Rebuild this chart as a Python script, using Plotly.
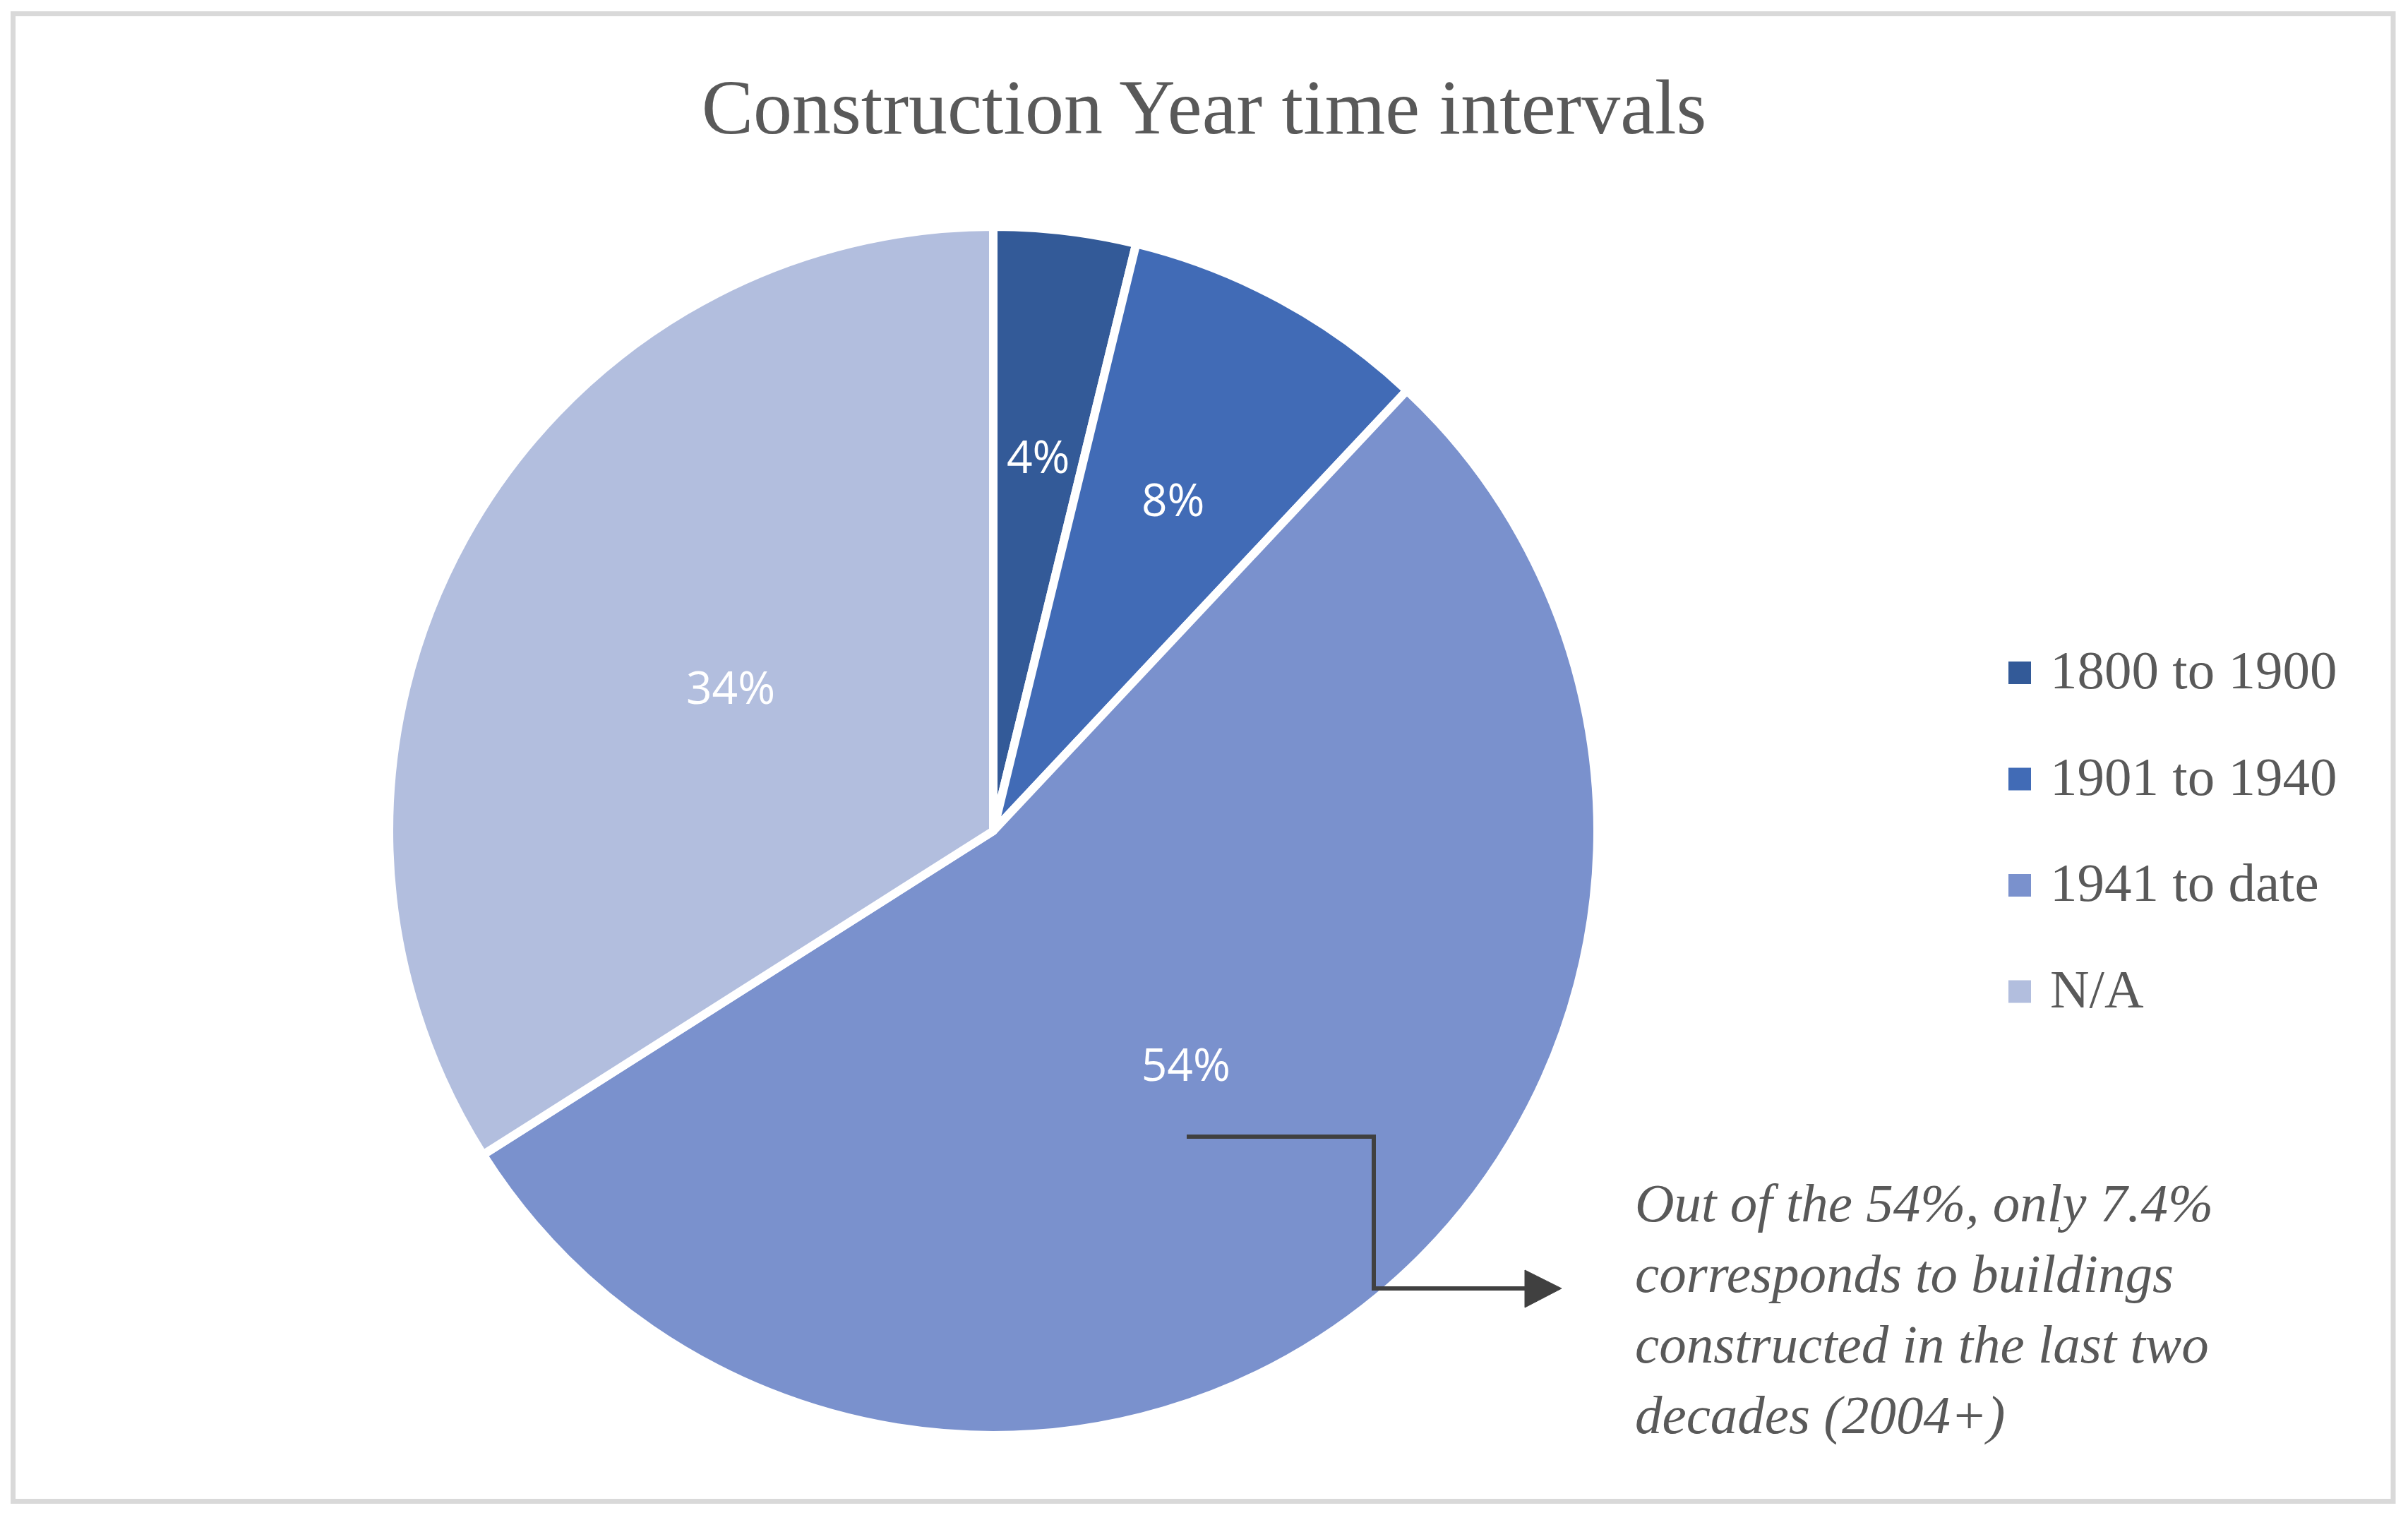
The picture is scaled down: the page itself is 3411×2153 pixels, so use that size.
import math
import plotly.graph_objects as go

W, H = 3411, 2153

categories = ["1800 to 1900", "1901 to 1940", "1941 to date", "N/A"]
values = [3.8, 8.2, 54.0, 34.0]
colors = ["#335A98", "#416BB6", "#7A91CD", "#B2BEDE"]
title_text = "Construction Year time intervals"
note_lines = [
    "Out of the 54%, only 7.4%",
    "corresponds to buildings",
    "constructed in the last two",
    "decades (2004+)",
]
# radial position of the data labels (fraction of radius); None = library placement
label_radius = [0.63, 0.63, None, 0.50]


def px(x):
    return x / W


def py(y):
    return 1 - y / H


# pie geometry (pixels)
cx, cy, r = 1407, 1177, 856

fig = go.Figure()
fig.add_trace(go.Pie(
    labels=categories,
    values=values,
    sort=False,
    direction="clockwise",
    rotation=0,
    marker=dict(colors=colors, line=dict(color="white", width=12)),
    texttemplate="%{percent:.0%}",
    textposition=["none" if lr else "inside" for lr in label_radius],
    insidetextorientation="horizontal",
    textfont=dict(family="Open Sans", size=64, color="white"),
    hoverinfo="label+percent",
    showlegend=False,
    domain=dict(x=[px(cx - r), px(cx + r)], y=[py(cy + r), py(cy - r)]),
))

shapes = []
annotations = []

# labels placed along each slice's mid-angle
total = sum(values)
cum = 0.0
for v, lr in zip(values, label_radius):
    mid = (cum + v / 2) / total * 2 * math.pi
    cum += v
    if lr:
        lx = cx + math.sin(mid) * lr * (r - 6)
        ly = cy - math.cos(mid) * lr * (r - 6)
        annotations.append(dict(xref="paper", yref="paper", x=px(lx), y=py(ly),
                                xanchor="center", yanchor="middle", showarrow=False,
                                text=f"{round(v / total * 100)}%",
                                font=dict(family="Open Sans", size=64, color="white")))

# outer frame
shapes.append(dict(type="rect", xref="paper", yref="paper",
                   x0=px(18.5), x1=px(3390), y0=py(2126.5), y1=py(19.5),
                   line=dict(color="#D9D9D9", width=7), fillcolor="rgba(0,0,0,0)",
                   layer="above"))

# custom legend
leg_x = 2845
leg_y0 = 953
leg_dy = 150.5
sq = 32
for i, (cat, col) in enumerate(zip(categories, colors)):
    yc = leg_y0 + i * leg_dy
    shapes.append(dict(type="rect", xref="paper", yref="paper",
                       x0=px(leg_x), x1=px(leg_x + sq),
                       y0=py(yc + sq / 2), y1=py(yc - sq / 2),
                       fillcolor=col, line=dict(width=0)))
    annotations.append(dict(xref="paper", yref="paper", x=px(2902), y=py(yc - 4),
                            xanchor="left", yanchor="middle", showarrow=False,
                            text=cat,
                            font=dict(family="Liberation Serif", size=77, color="#595959")))

# connector with arrow
shapes.append(dict(type="path", xref="paper", yref="paper",
                   path=f"M {px(1681)},{py(1610)} H {px(1946)} V {py(1825)} H {px(2165)}",
                   line=dict(color="#404040", width=6), fillcolor="rgba(0,0,0,0)"))
shapes.append(dict(type="path", xref="paper", yref="paper",
                   path=f"M {px(2160)},{py(1799)} L {px(2212)},{py(1825)} L {px(2160)},{py(1852)} Z",
                   line=dict(color="#404040", width=1), fillcolor="#404040"))

annotations.append(dict(xref="paper", yref="paper", x=px(2314), y=py(1854),
                        xanchor="left", yanchor="middle", align="left", showarrow=False,
                        text="<br>".join(f"<i>{l}</i>" for l in note_lines),
                        font=dict(family="Liberation Serif", size=77, color="#595959")))

fig.update_layout(
    width=W, height=H,
    margin=dict(l=0, r=0, t=0, b=0),
    paper_bgcolor="white",
    plot_bgcolor="white",
    title=dict(text=title_text, x=0.5, xanchor="center", xref="paper",
               y=py(150), yref="container", yanchor="middle",
               font=dict(family="Liberation Serif", size=110, color="#595959")),
    shapes=shapes,
    annotations=annotations,
    showlegend=False,
)

fig.write_html("out.html",
               config={"displayModeBar": False},
               post_script="document.body.style.margin='0px';document.body.style.overflow='hidden';")
